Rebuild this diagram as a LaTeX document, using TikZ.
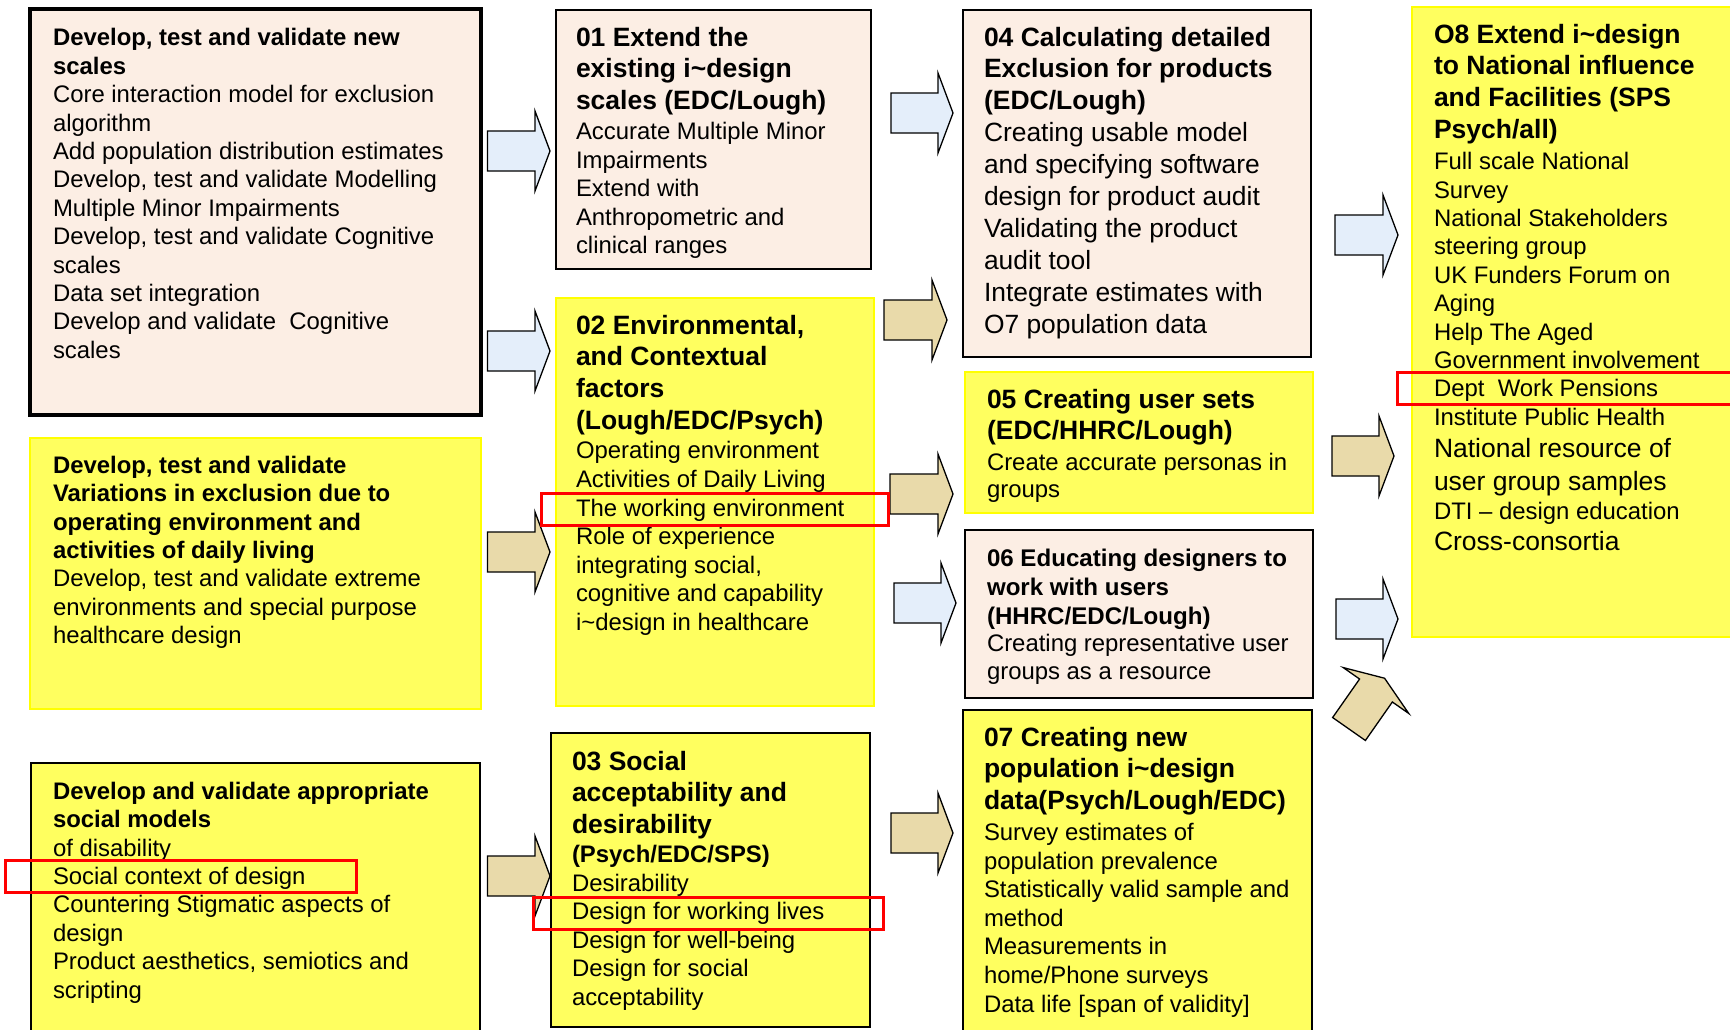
\documentclass[tikz,border=0pt]{standalone}
\usepackage{fontspec}
\setmainfont{Liberation Sans}
\usepackage{tikz}
\usetikzlibrary{positioning}

\definecolor{peach}{RGB}{252,238,228}
\definecolor{lemon}{RGB}{255,255,95}
\definecolor{lemonline}{RGB}{255,255,0}
\definecolor{sand}{RGB}{233,218,170}
\definecolor{skyfill}{RGB}{228,238,250}

% 字体大小 (align=left 会把词距固定成 .3333em, 这里恢复字体本身的词距)
\newcommand{\plainspace}{\spaceskip=0pt \xspaceskip=0pt\relax}
\newcommand{\titlefont}{\fontsize{26.5}{31.7}\selectfont\bfseries\plainspace}
\newcommand{\smalltitle}{\fontsize{24.1}{29}\selectfont\bfseries\plainspace}
\newcommand{\bodyfont}{\fontsize{23.9}{28.6}\selectfont\mdseries\plainspace}
\newcommand{\sidetitle}{\fontsize{23.9}{28.4}\selectfont\bfseries\plainspace}
\newcommand{\sidebody}{\fontsize{23.9}{28.4}\selectfont\mdseries\plainspace}

% 块状箭头: 尾部 x, y, 旋转角, 颜色, 长度
\newcommand{\blockarrow}[5]{%
  \draw[arrowline, fill=#4, shift={(#1,#2)}, rotate=#3]
    (0,-20) -- (#5-15,-20) -- (#5-15,-40) -- (#5,0) -- (#5-15,40)
    -- (#5-15,20) -- (0,20) -- cycle;}

\begin{document}
\begin{tikzpicture}[x=1pt, y=-1pt,
    panel/.style={anchor=north west, inner sep=0pt, outer sep=0pt},
    peachbox/.style={panel, fill=peach, draw=black, line width=1.3pt},
    lemonbox/.style={panel, fill=lemon, draw=lemonline, line width=2pt},
    framedlemon/.style={panel, fill=lemon, draw=black, line width=2pt},
    txt/.style={anchor=north west, inner sep=0pt, outer sep=0pt,
      text width=420pt, align=left},
    arrowline/.style={draw=black, line width=1.3pt, line join=miter},
    hilite/.style={draw=red, line width=3pt}]

  \useasboundingbox (0,0) rectangle (1730,1029);
  \clip (0,0) rectangle (1730,1029);
  \fill[white] (0,0) rectangle (1730,1029);

  % 左列
  \node[peachbox, line width=3.3pt, minimum width=451pt, minimum height=406pt] (scales) at (30,9) {};
  \node[txt, below right=19.5pt and 23pt of scales.north west] (scales-text) {%
    \sidetitle Develop, test and validate new\\ scales\par
    \sidebody Core interaction model for exclusion\\ algorithm\\
    Add population distribution estimates\\ Develop, test and validate Modelling\\
    Multiple Minor Impairments\\ Develop, test and validate Cognitive\\ scales\\
    Data set integration\\ Develop and validate\ \ Cognitive\\ scales\par};

  \node[lemonbox, minimum width=451pt, minimum height=271pt] (variations) at (30,438) {};
  \node[txt, below right=18pt and 23pt of variations.north west] (variations-text) {%
    \sidetitle Develop, test and validate\\ Variations in exclusion due to\\
    operating environment and\\ activities of daily living\par
    \sidebody Develop, test and validate extreme\\ environments and special purpose\\
    healthcare design\par};

  \node[framedlemon, minimum width=449pt, minimum height=290pt] (social) at (31,763) {};
  \node[txt, below right=19pt and 22pt of social.north west] (social-text) {%
    \sidetitle Develop and validate appropriate\\ social models\par
    \sidebody of disability\\ Social context of design\\ Countering Stigmatic aspects of\\
    design\\ Product aesthetics, semiotics and\\ scripting\par};

  % 第二列: 01 02 03
  \node[peachbox, minimum width=315pt, minimum height=259pt] (o1) at (556,10) {};
  \node[txt, below right=16.8pt and 20pt of o1.north west] (o1-text) {%
    \titlefont 01 Extend the\\ existing i\textasciitilde design\\ scales (EDC/Lough)\par
    \vspace{1.5pt}
    \bodyfont Accurate Multiple Minor\\ Impairments\\ Extend with\\
    Anthropometric and\\ clinical ranges\par};

  \node[lemonbox, minimum width=318pt, minimum height=408pt] (o2) at (556,298) {};
  \node[txt, below right=17pt and 20pt of o2.north west] (o2-text) {%
    \titlefont 02 Environmental,\\ and Contextual\\ factors\\ (Lough/EDC/Psych)\par
    \vspace{1pt}
    \bodyfont Operating environment\\ Activities of Daily Living\\
    The working environment\\ Role of experience\\ integrating social,\\
    cognitive and capability\\ i\textasciitilde design in healthcare\par};

  \node[framedlemon, minimum width=319pt, minimum height=294pt] (o3) at (551,733) {};
  \node[txt, below right=17.8pt and 21pt of o3.north west] (o3-text) {%
    \titlefont 03 Social\\ acceptability and\\ desirability\par
    \fontsize{23.9}{29}\selectfont (Psych/EDC/SPS)\par
    \bodyfont Desirability\\ Design for working lives\\ Design for well-being\\
    Design for social\\ acceptability\par};

  % 第三列: 04 05 06 07
  \node[peachbox, minimum width=348pt, minimum height=347pt] (o4) at (963,10) {};
  \node[txt, below right=16.8pt and 21pt of o4.north west] (o4-text) {%
    \titlefont 04 Calculating detailed\\ Exclusion for products\\ (EDC/Lough)\par
    \fontsize{26.4}{32}\selectfont\mdseries Creating usable model\\
    and specifying software\\ design for product audit\\ Validating the product\\
    audit tool\\ Integrate estimates with\\ O7 population data\par};

  \node[lemonbox, minimum width=348pt, minimum height=141pt] (o5) at (965,372) {};
  \node[txt, below right=17pt and 22pt of o5.north west] (o5-text) {%
    \titlefont 05 Creating user sets\\ (EDC/HHRC/Lough)\par
    \fontsize{23.9}{30.5}\selectfont\mdseries Create accurate personas in\par
    \fontsize{23.9}{27}\selectfont groups\par};

  \node[peachbox, minimum width=348pt, minimum height=168pt] (o6) at (965,530) {};
  \node[txt, below right=19pt and 22pt of o6.north west] (o6-text) {%
    \smalltitle 06 Educating designers to\\ work with users\\ (HHRC/EDC/Lough)\par
    \fontsize{23.9}{27.5}\selectfont\mdseries Creating representative user\\
    groups as a resource\par};

  \node[framedlemon, minimum width=349pt, minimum height=340pt] (o7) at (963,710) {};
  \node[txt, below right=16.8pt and 21pt of o7.north west] (o7-text) {%
    \titlefont 07 Creating new\\ population i\textasciitilde design\\
    data(Psych/Lough/EDC)\par
    \vspace{2.5pt}
    \bodyfont Survey estimates of\\ population prevalence\\
    Statistically valid sample and\\ method\\ Measurements in\\
    home/Phone surveys\\ Data life [span of validity]\par};

  % 右列: O8
  \node[lemonbox, minimum width=340pt, minimum height=630pt] (o8) at (1412,7) {};
  \node[txt, below right=17pt and 22pt of o8.north west] (o8-text) {%
    \titlefont O8 Extend i\textasciitilde design\\ to National influence\\
    and Facilities (SPS\\ Psych/all)\par
    \vspace{3pt}
    \fontsize{23.9}{28.4}\selectfont\mdseries Full scale National\\ Survey\\
    National Stakeholders\\ steering group\\ UK Funders Forum on\\ Aging\\
    Help The Aged\\ Government involvement\\ Dept\ \ Work Pensions\\
    Institute Public Health\par
    \fontsize{26.5}{32.5}\selectfont National resource of\\ user group samples\par
    \fontsize{23.9}{29}\selectfont DTI \textendash{} design education\par
    \fontsize{26.5}{31}\selectfont Cross-consortia\par};

  % 箭头
  \blockarrow{487.5}{151}{0}{skyfill}{62.5}
  \blockarrow{487.5}{351}{0}{skyfill}{62.5}
  \blockarrow{487.5}{552}{0}{sand}{62.5}
  \blockarrow{487.5}{876}{0}{sand}{62.5}
  \blockarrow{891}{113}{0}{skyfill}{62}
  \blockarrow{884}{320}{0}{sand}{63}
  \blockarrow{890}{494}{0}{sand}{63}
  \blockarrow{894}{603}{0}{skyfill}{62}
  \blockarrow{891}{833}{0}{sand}{62}
  \blockarrow{1335}{235}{0}{skyfill}{63}
  \blockarrow{1332}{456}{0}{sand}{62}
  \blockarrow{1336}{619}{0}{skyfill}{62}
  \blockarrow{1349}{729}{55}{sand}{62}

  % 红色标记框
  \draw[hilite] (541,493) rectangle (888,525);
  \draw[hilite] (1397,372) rectangle (1745,404);
  \draw[hilite] (5,860) rectangle (356,892);
  \draw[hilite] (533,897) rectangle (883,929);
\end{tikzpicture}
\end{document}
